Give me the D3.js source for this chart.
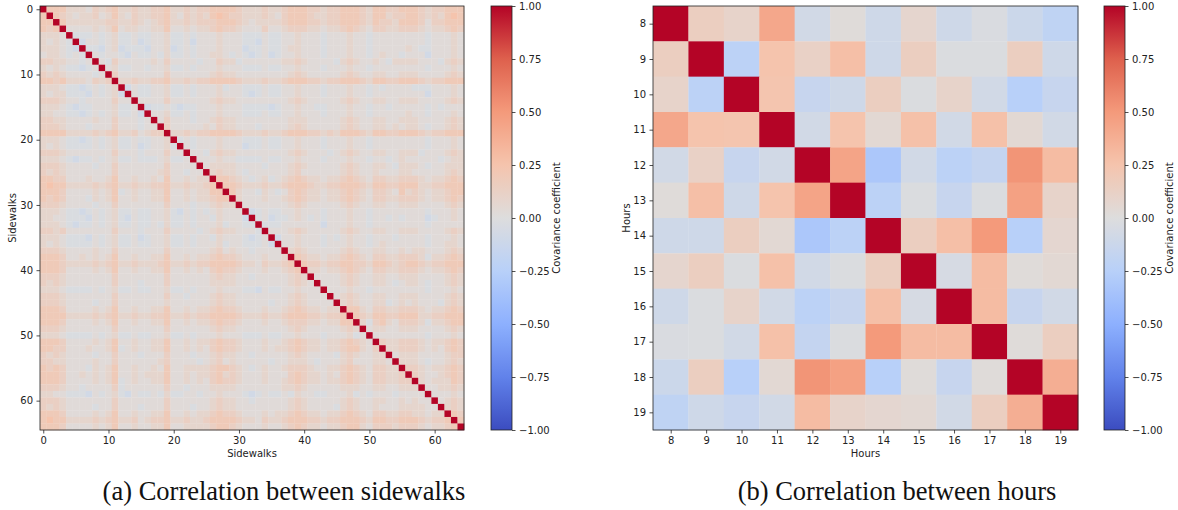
<!DOCTYPE html>
<html>
<head>
<meta charset="utf-8">
<script src="https://cdn.jsdelivr.net/npm/d3@7"></script>
<style>
  body { margin: 0; background: #fff; }
  svg { display: block; }
  .tick text { font-family: "DejaVu Sans", sans-serif; font-size: 10px; fill: #222; }
  .tick line { stroke: #222; stroke-width: 0.8; }
  .lbl { font-family: "DejaVu Sans", sans-serif; font-size: 10px; fill: #222; }
  .cap { font-family: "Liberation Serif", serif; font-size: 22px; fill: #111; }
</style>
</head>
<body>
<svg id="fig" width="1178" height="510"></svg>
<script>
// sidewalk correlations: lower triangle, row k holds cols 0..k, "X" is the diagonal (1.0)
// a digit d stands for (d - 2.5) * 0.055
var sidewalkRows = [
  "X",
  "6X",
  "66X",
  "656X",
  "4443X",
  "43432X",
  "444321X",
  "3443232X",
  "55443323X",
  "434322123X",
  "5454333323X",
  "6656444354 5X",
  "4443221232 34X",
  "4344222132 341X",
  "5554332333 3533X",
  "4443212233 34223X",
  "4433221232 342231X",
  "5544333343 3533323X",
  "5554333233 35333233X",
  "6666444454 564453455X",
  "4443221232 3422322334 X",
  "4343222232 3422312334 2X",
  "5554333333 3533323335 33X",
  "4443212232 3422322234 223X",
  "5554333323 3533333335 3333X",
  "5454333333 3533333345 33233X",
  "6655333433 4633433436 334344X",
  "6766444454 5644544556 4454456X",
  "6665333343 4623433446 33434466X",
  "6565333243 4633433446 334344566X",
  "5554333323 3533333335 3332334544 X",
  "4443221232 3422322334 2132323433 3X",
  "4433222132 3421322334 2232332433 31X",
  "4443212232 3422322324 2232333423 322X",
  "5545333333 3533323335 3333234544 3332X",
  "4443222132 3422312334 2232332433 32123X",
  "4343222232 3422322334 2232333423 322231X",
  "5554333343 3533333335 3333334534 3323333X",
  "6665334343 4633433446 3343445655 43334334X",
  "6665444454 5644544456 4454556666 544354456X",
  "6665333343 4633433446 3343435655 4333433456 X",
  "5554333333 3533333335 3333334544 3323333345 4X",
  "5454333333 3533323335 3333334444 3333333345 43X",
  "4443222232 3422322334 2232333433 3221322334 333X",
  "5554333333 3533333335 3323334544 3333333345 4333X",
  "5554333323 3533333334 3333334544 3333323345 43333X",
  "6665333343 4633433446 3343445655 4333433456 544344X",
  "6666444454 5644544556 4454556666 5444544566 6554556X",
  "6665333343 4633433446 3343445655 4333433455 54434466X",
  "5554333333 3533333335 3333334544 3333333345 433333454X",
  "4443222232 3422322334 2232333433 3222322334 3332333423 X",
  "6665333343 4633433446 3343445655 4333433456 5443445654 3X",
  "6655333433 4623433446 3343435655 4333434456 5443445664 35X",
  "5454333323 3533323335 3332334544 3323333345 4333324543 344X",
  "5544333343 3533333345 3333234534 3333323344 4323334533 3443X",
  "6565333243 4633433436 3344445665 4323433455 5433445654 35544X",
  "6665334343 4633434446 3343445645 4333433356 5443435654 355445X",
  "6665333343 4623433446 3343435655 4333433456 5443445654 3554455X",
  "5554332333 3523333335 3323334444 3333333445 4333334443 34433444X",
  "4433222132 3421322324 2233233433 3212322324 3322333423 233323333X",
  "5554333333 3533333335 3333334544 3323333345 4333334543 3443343433 X",
  "5454333323 3533323335 3332334544 3333333345 4333324543 3433344443 3X",
  "6665333343 4633433446 3343445655 4333434456 5443445654 3554455443 44X",
  "6766444454 5644534556 4454456666 5443544566 6554556665 4665566654 556X",
  "6665333343 4633433446 3344445665 4333433456 5443445664 3555455543 4456X"
];
var sidewalkTicks = [0, 10, 20, 30, 40, 50, 60];

var hours = [8, 9, 10, 11, 12, 13, 14, 15, 16, 17, 18, 19];
var hourCorr = [
  [ 1.00,  0.15,  0.10,  0.42, -0.08,  0.02, -0.10,  0.08, -0.10, -0.03, -0.12, -0.20],
  [ 0.15,  1.00, -0.22,  0.25,  0.12,  0.28, -0.10,  0.15, -0.02, -0.02,  0.15, -0.10],
  [ 0.10, -0.22,  1.00,  0.24, -0.15, -0.10,  0.15, -0.02,  0.10, -0.08, -0.25, -0.15],
  [ 0.42,  0.25,  0.24,  1.00, -0.08,  0.25,  0.05,  0.27, -0.08,  0.27,  0.05, -0.08],
  [-0.08,  0.12, -0.15, -0.08,  1.00,  0.44, -0.32, -0.08, -0.22, -0.17,  0.52,  0.30],
  [ 0.02,  0.28, -0.10,  0.25,  0.44,  1.00, -0.22, -0.02, -0.15, -0.02,  0.46,  0.10],
  [-0.10, -0.10,  0.15,  0.05, -0.32, -0.22,  1.00,  0.15,  0.28,  0.50, -0.25,  0.07],
  [ 0.08,  0.15, -0.02,  0.27, -0.08, -0.02,  0.15,  1.00, -0.05,  0.30,  0.02,  0.05],
  [-0.10, -0.02,  0.10, -0.08, -0.22, -0.15,  0.28, -0.05,  1.00,  0.30, -0.15, -0.08],
  [-0.03, -0.02, -0.08,  0.27, -0.17, -0.02,  0.50,  0.30,  0.30,  1.00,  0.02,  0.15],
  [-0.12,  0.15, -0.25,  0.05,  0.52,  0.46, -0.25,  0.02, -0.15,  0.02,  1.00,  0.38],
  [-0.20, -0.10, -0.15, -0.08,  0.30,  0.10,  0.07,  0.05, -0.08,  0.15,  0.38,  1.00]
];

var cbarTicks = [-1, -0.75, -0.5, -0.25, 0, 0.25, 0.5, 0.75, 1];
var cbarLabel = "Covariance coefficient";
var captions = ["(a) Correlation between sidewalks", "(b) Correlation between hours"];

// matplotlib coolwarm, sampled
var coolwarm = d3.scaleLinear()
    .domain([-1, -0.75, -0.5, -0.25, 0, 0.25, 0.5, 0.75, 1])
    .range(["#3b4cc0", "#6182ea", "#8db0fe", "#b8d0f9", "#dddddd", "#f5c4ad", "#f49a7b", "#de604d", "#b40426"])
    .interpolate(d3.interpolateRgb);

var svg = d3.select("#fig");
svg.append("rect").attr("width", 1178).attr("height", 510).attr("fill", "#fff");

// unpack sidewalk triangle into full symmetric cells
var swCells = [];
sidewalkRows.forEach(function(s, k) {
    var row = s.replace(/ /g, "");
    if (row.length !== k + 1) throw new Error("row " + k + " has " + row.length);
    for (var j = 0; j <= k; j++) {
        var ch = row[j],
            v = ch === "X" ? 1 : (+ch - 2.5) * 0.055;
        swCells.push({r: k, c: j, v: v});
        if (j < k) swCells.push({r: j, c: k, v: v});
    }
});

var hrCells = [];
hours.forEach(function(h, i) {
    hours.forEach(function(h2, j) {
        hrCells.push({r: h, c: h2, v: hourCorr[i][j]});
    });
});

// gradient for the colour bars
var grad = svg.append("defs").append("linearGradient")
    .attr("id", "cw").attr("x1", 0).attr("y1", 1).attr("x2", 0).attr("y2", 0);
d3.range(0, 1.0001, 0.025).forEach(function(t) {
    grad.append("stop").attr("offset", t).attr("stop-color", coolwarm(t * 2 - 1));
});

function panel(o) {
    var x = d3.scaleLinear().domain(o.domain).range([o.left, o.right]),
        y = d3.scaleLinear().domain(o.domain).range([o.top, o.bottom]),
        g = svg.append("g");

    g.selectAll("rect.cell")
        .data(o.cells)
        .enter().append("rect")
        .attr("class", "cell")
        .attr("x", function(d) { return x(d.c - 0.5); })
        .attr("y", function(d) { return y(d.r - 0.5); })
        .attr("width", function(d) { return x(d.c + 0.5) - x(d.c - 0.5) + 0.3; })
        .attr("height", function(d) { return y(d.r + 0.5) - y(d.r - 0.5) + 0.3; })
        .attr("fill", function(d) { return coolwarm(d.v); });

    g.append("g")
        .attr("transform", "translate(0," + o.bottom + ")")
        .call(d3.axisBottom(x).tickValues(o.ticks).tickSize(3.5).tickPadding(3.5).tickFormat(d3.format("d")))
        .call(function(a) { a.select(".domain").remove(); });

    g.append("g")
        .attr("transform", "translate(" + o.left + ",0)")
        .call(d3.axisLeft(y).tickValues(o.ticks).tickSize(3.5).tickPadding(3.5).tickFormat(d3.format("d")))
        .call(function(a) { a.select(".domain").remove(); });

    g.append("rect")
        .attr("x", o.left).attr("y", o.top)
        .attr("width", o.right - o.left).attr("height", o.bottom - o.top)
        .attr("fill", "none").attr("stroke", "#222").attr("stroke-width", 0.8);

    g.append("text").attr("class", "lbl")
        .attr("x", (o.left + o.right) / 2).attr("y", 457)
        .attr("text-anchor", "middle")
        .text(o.label);

    g.append("text").attr("class", "lbl")
        .attr("transform", "translate(" + o.ylabelX + "," + (o.top + o.bottom) / 2 + ") rotate(-90)")
        .attr("text-anchor", "middle")
        .text(o.label);

    // colour bar
    var cy = d3.scaleLinear().domain([-1, 1]).range([o.bottom, o.top]);
    g.append("rect")
        .attr("x", o.cbar).attr("y", o.top)
        .attr("width", 21).attr("height", o.bottom - o.top)
        .attr("fill", "url(#cw)").attr("stroke", "#222").attr("stroke-width", 0.8);
    g.append("g")
        .attr("transform", "translate(" + (o.cbar + 21) + ",0)")
        .call(d3.axisRight(cy).tickValues(cbarTicks).tickSize(3.5).tickPadding(3.5).tickFormat(d3.format(".2f")))
        .call(function(a) { a.select(".domain").remove(); });
    g.append("text").attr("class", "lbl")
        .attr("transform", "translate(" + (o.cbar + 69) + "," + (o.top + o.bottom) / 2 + ") rotate(-90)")
        .attr("text-anchor", "middle")
        .text(cbarLabel);
}

panel({cells: swCells, domain: [-0.5, 64.5], ticks: sidewalkTicks, label: "Sidewalks",
       left: 40, right: 464, top: 6, bottom: 430, ylabelX: 16, cbar: 491});
panel({cells: hrCells, domain: [7.5, 19.5], ticks: hours, label: "Hours",
       left: 653, right: 1078, top: 6, bottom: 430, ylabelX: 630, cbar: 1104});

// sub-figure captions
var capX = [284, 897];
var caps = svg.selectAll("text.cap")
    .data(captions)
    .enter().append("text")
    .attr("class", "cap")
    .attr("x", function(d, i) { return capX[i]; })
    .attr("y", 500)
    .attr("text-anchor", "middle")
    .text(function(d) { return d; });
var w = caps.node().getComputedTextLength();
caps.style("font-size", (22 * 363 / w) + "px");
</script>
</body>
</html>
